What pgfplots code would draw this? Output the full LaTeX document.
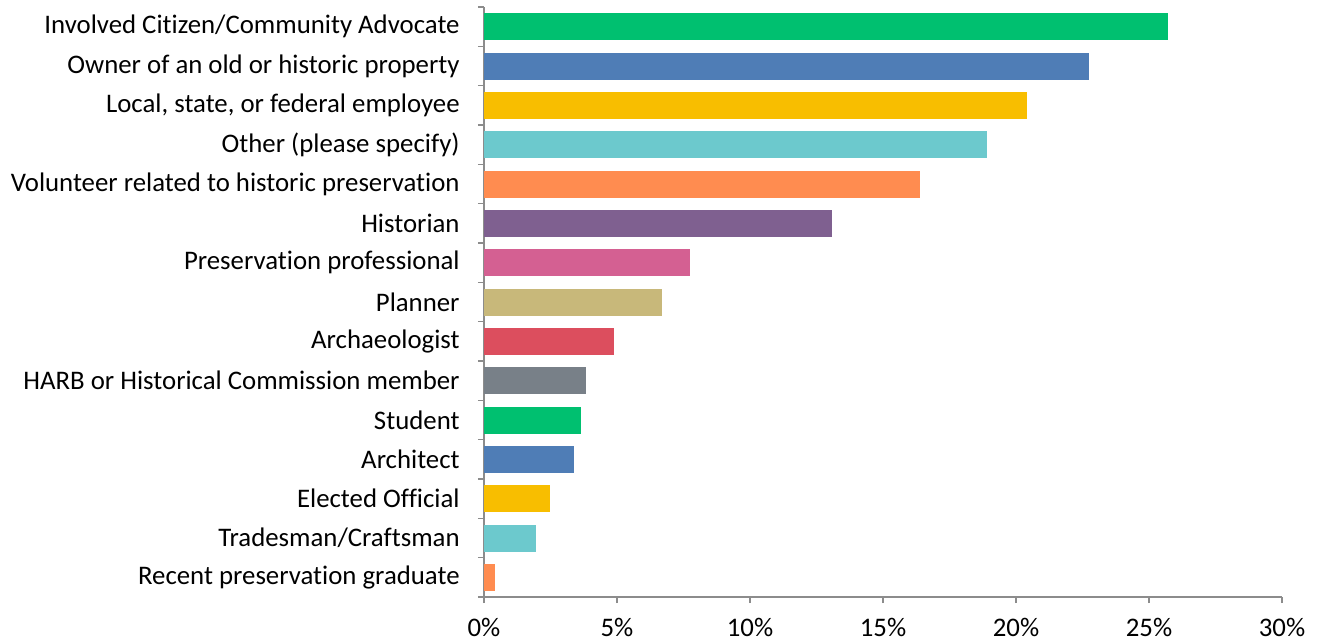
\documentclass[border=0pt]{standalone}
\usepackage{pgfplots}
\pgfplotsset{compat=1.18}
\usepackage{fontspec}
\setmainfont{Carlito}[Ligatures=NoCommon]
\definecolor{c1}{HTML}{00C070}
\definecolor{c2}{HTML}{4F7DB6}
\definecolor{c3}{HTML}{F8BE00}
\definecolor{c4}{HTML}{6CC9CD}
\definecolor{c5}{HTML}{FF8C50}
\definecolor{c6}{HTML}{7F6090}
\definecolor{c7}{HTML}{D46092}
\definecolor{c8}{HTML}{C8B87A}
\definecolor{c9}{HTML}{DC4E5E}
\definecolor{c10}{HTML}{788088}
\definecolor{axgray}{HTML}{8C8C8C}
\begin{document}
\begin{tikzpicture}
\begin{axis}[
  at={(0,0)}, anchor=south west,
  width=399pt, height=295pt, scale only axis,
  xbar, bar shift=0pt, bar width=13.5pt,
  xmin=0, xmax=30, ymin=0.5, ymax=15.5, y dir=reverse,
  axis lines*=left,
  axis line style={axgray, line width=0.6pt},
  xtick={0,5,...,30},
  xticklabel={\pgfmathprintnumber{\tick}\%},
  /pgf/number format/assume math mode=true,
  ytick={1,...,15},
  yticklabels={Involved Citizen/Community Advocate, Owner of an old or historic property, {Local, state, or federal employee}, Other (please specify), Volunteer related to historic preservation, Historian, Preservation professional, Planner, Archaeologist, HARB or Historical Commission member, Student, Architect, Elected Official, Tradesman/Craftsman, Recent preservation graduate},
  minor ytick={0.5,1.5,...,15.5},
  tick align=outside,
  major tick length=3pt, minor tick length=3pt,
  x tick style={axgray, line width=0.6pt},
  y tick style={draw=none},
  minor y tick style={draw=axgray, line width=0.6pt},
  tick label style={font=\fontsize{13.4}{15}\selectfont, text=black},
  yticklabel style={inner sep=0pt, xshift=-9pt},
  xticklabel style={inner sep=0pt, yshift=-7.5pt},
  every axis plot/.append style={draw=none},
]
\addplot[fill=c1] coordinates {(25.7,1)};
\addplot[fill=c2] coordinates {(22.75,2)};
\addplot[fill=c3] coordinates {(20.4,3)};
\addplot[fill=c4] coordinates {(18.9,4)};
\addplot[fill=c5] coordinates {(16.4,5)};
\addplot[fill=c6] coordinates {(13.1,6)};
\addplot[fill=c7] coordinates {(7.75,7)};
\addplot[fill=c8] coordinates {(6.7,8)};
\addplot[fill=c9] coordinates {(4.9,9)};
\addplot[fill=c10] coordinates {(3.85,10)};
\addplot[fill=c1] coordinates {(3.65,11)};
\addplot[fill=c2] coordinates {(3.4,12)};
\addplot[fill=c3] coordinates {(2.5,13)};
\addplot[fill=c4] coordinates {(1.95,14)};
\addplot[fill=c5] coordinates {(0.4,15)};
\end{axis}
\path[use as bounding box] (-242pt,-22.5pt) rectangle (417.5pt,298.5pt);
\end{tikzpicture}
\end{document}
